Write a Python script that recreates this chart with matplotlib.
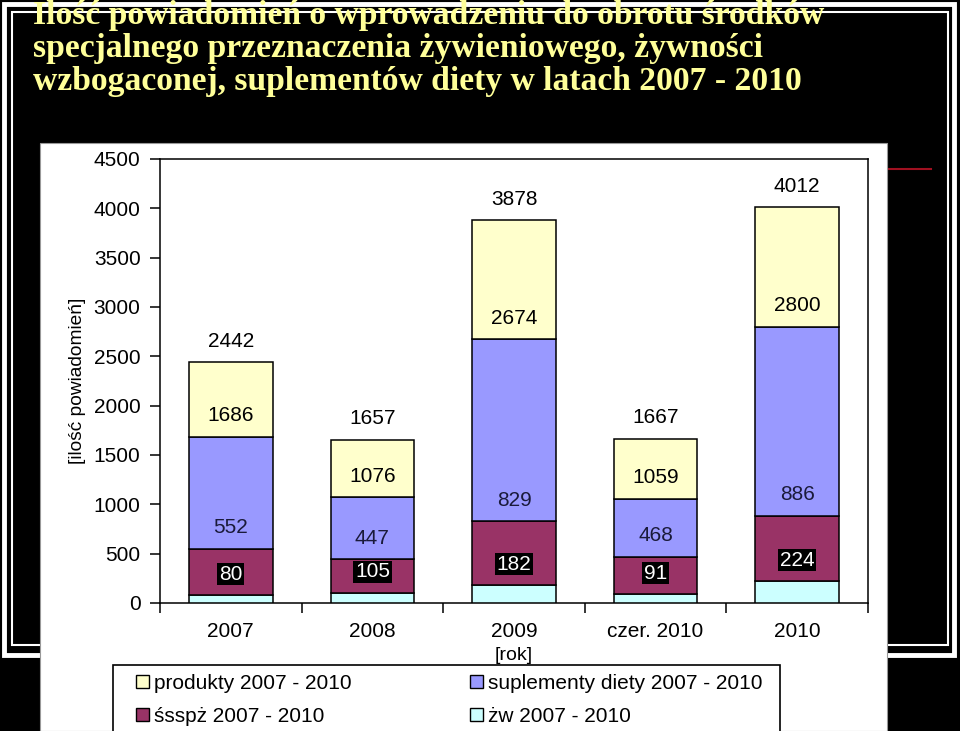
import matplotlib
matplotlib.use('Agg')
import matplotlib.pyplot as plt
from matplotlib.patches import Rectangle, Patch
import numpy as np

# etykiety to sumy narastajace (gorna krawedz kazdego segmentu)
years = ['2007', '2008', '2009', 'czer. 2010', '2010']
zw_top = [80, 105, 182, 91, 224]
ssspz_top = [552, 447, 829, 468, 886]
supl_top = [1686, 1076, 2674, 1059, 2800]
prod_top = [2442, 1657, 3878, 1667, 4012]

names = ['żw 2007 - 2010', 'śsspż 2007 - 2010',
         'suplementy diety 2007 - 2010', 'produkty 2007 - 2010']
colors = ['#CCFFFF', '#993366', '#9999FF', '#FFFFCC']
title_lines = ['Ilość powiadomień o wprowadzeniu do obrotu środków',
               'specjalnego przeznaczenia żywieniowego, żywności',
               'wzbogaconej, suplementów diety w latach 2007 - 2010']

plt.rcParams['font.family'] = ['Liberation Sans', 'DejaVu Sans']
W, H = 960, 731
fig = plt.figure(figsize=(9.6, 7.31), dpi=100, facecolor='black')

def fx(px):
    return px / W

def fy(py):
    return 1 - py / H

# ramka slajdu
fig.patches.append(Rectangle((fx(4), fy(655)), fx(950), (655 - 4) / H, transform=fig.transFigure,
                             fill=False, ec='white', lw=3.5, zorder=-3))
fig.patches.append(Rectangle((fx(12), fy(645)), fx(936), (645 - 12) / H, transform=fig.transFigure,
                             fill=False, ec='white', lw=1.5, zorder=-3))
fig.add_artist(plt.Line2D([fx(888), fx(931)], [fy(169), fy(169)], transform=fig.transFigure,
                          color='#A01020', lw=1.5, zorder=-3))
# biale tlo wykresu
fig.patches.append(Rectangle((fx(40), 0), fx(847), (731 - 143) / H, transform=fig.transFigure,
                             fc='white', ec='#999999', lw=0.8, zorder=-2))
# ramka legendy
fig.patches.append(Rectangle((fx(113), fy(745)), fx(780 - 113), (745 - 665) / H,
                             transform=fig.transFigure, fc='white', ec='black', lw=1.2, zorder=-1))

for i, line in enumerate(title_lines):
    fig.text(fx(33), fy(24 + 33 * i), line, color='#FFFF99', fontsize=24.2,
             family=['Liberation Serif', 'DejaVu Serif'], weight='bold', va='baseline', ha='left')

ax = fig.add_axes([fx(160), fy(603), fx(868 - 160), (603 - 159) / H])
ax.set_facecolor('white')

tops = [zw_top, ssspz_top, supl_top, prod_top]
x = np.arange(len(years))
bottom = np.zeros(len(years))
for top, c in zip(tops, colors):
    top = np.array(top, dtype=float)
    ax.bar(x, top - bottom, bottom=bottom, width=0.59, color=c, edgecolor='black', lw=1.1, zorder=3)
    bottom = top

# etykiety danych
for k, top in enumerate(tops):
    for i, v in enumerate(top):
        if k == 0:
            ax.annotate(str(v), (x[i], v), xytext=(0, 15), textcoords='offset points',
                        ha='center', va='center', fontsize=15, color='white', zorder=5,
                        bbox=dict(boxstyle='square,pad=0.08', fc='black', ec='none'))
        else:
            ax.annotate(str(v), (x[i], v), xytext=(0, 15), textcoords='offset points',
                        ha='center', va='center', fontsize=15,
                        color='#1a1a3a' if k == 1 else 'black', zorder=5)

ax.set_xlim(-0.5, len(years) - 0.5)
ax.set_ylim(0, 4500)
ax.set_yticks(np.arange(0, 4501, 500))
ax.set_xticks(np.arange(-0.5, len(years), 1.0))
ax.set_xticklabels([])
ax.set_xticks(x, minor=True)
ax.set_xticklabels(years, minor=True)
ax.tick_params(axis='x', which='major', direction='out', length=7, width=1.1)
ax.tick_params(axis='x', which='minor', length=0, pad=14, labelsize=15)
ax.tick_params(axis='y', direction='out', length=7, width=1.1, pad=7, labelsize=15)
for s in ax.spines.values():
    s.set_linewidth(1.1)

ax.set_ylabel('[ilość powiadomień]', fontsize=13.8)
ax.yaxis.set_label_coords(-0.104, 0.5)
ax.set_xlabel('[rok]', fontsize=14)
ax.xaxis.set_label_coords(0.5, -0.1)

order = [3, 1, 2, 0]
handles = [Patch(fc=colors[k], ec='black', lw=1.0) for k in order]
labels = [names[k] for k in order]
leg = fig.legend(handles, labels, loc='upper left', bbox_to_anchor=(fx(136), fy(674)),
                 ncol=2, fontsize=15, frameon=False, borderaxespad=0, borderpad=0,
                 handlelength=0.6, handleheight=0.6, handletextpad=0.25,
                 labelspacing=0.68, columnspacing=5.7)

fig.savefig('out.png', dpi=100, facecolor='black')
